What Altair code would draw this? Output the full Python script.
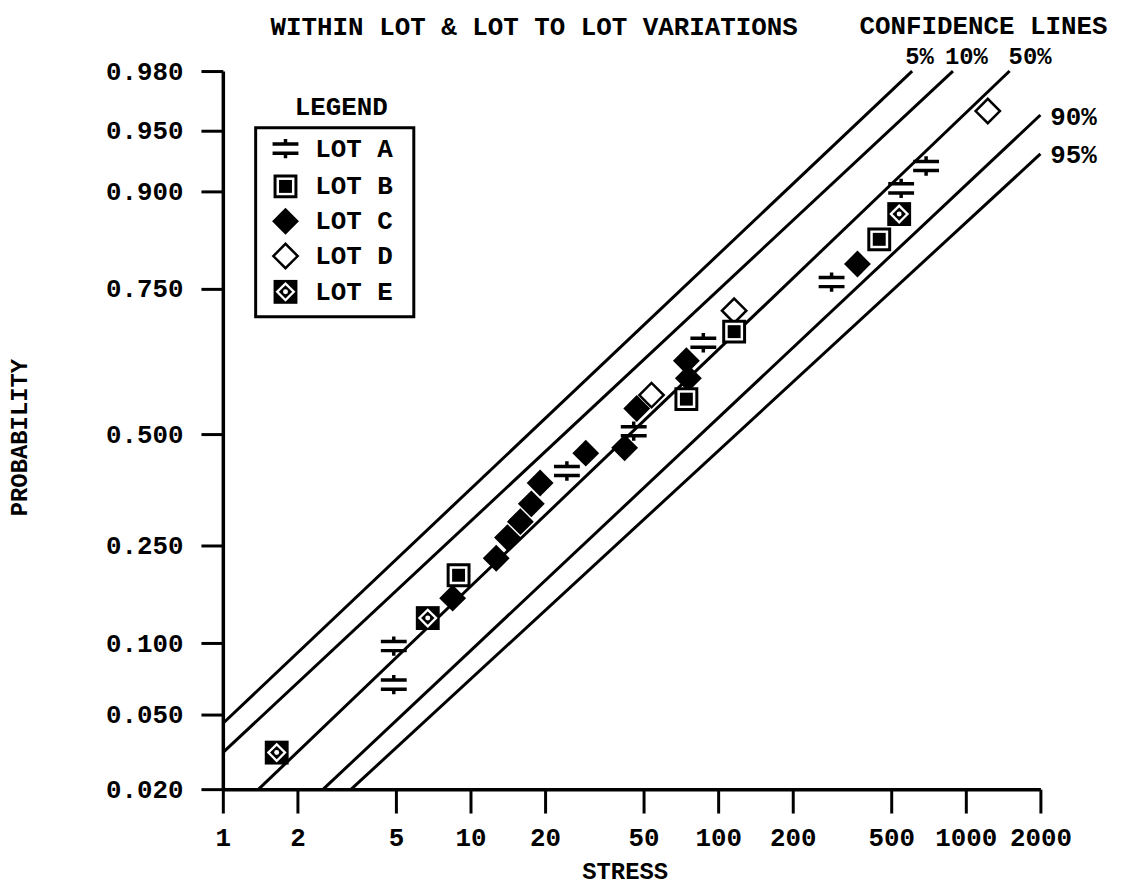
import altair as alt
import pandas as pd

# ---------------- data ----------------
prob_ticks = [0.02, 0.05, 0.10, 0.25, 0.50, 0.75, 0.90, 0.95, 0.98]
stress_ticks = [1, 2, 5, 10, 20, 50, 100, 200, 500, 1000, 2000]

lot_names = ["LOT A", "LOT B", "LOT C", "LOT D", "LOT E"]

lot_a_stress = [4.9, 4.9, 24.5, 45.6, 87.1, 287, 548, 691]
lot_a_prob = [0.098, 0.071, 0.417, 0.505, 0.657, 0.760, 0.9025, 0.921]

lot_b_stress = [8.95, 74.4, 116, 447]
lot_b_prob = [0.204, 0.560, 0.676, 0.826]

lot_c_stress = [8.47, 12.7, 14.1, 15.9, 17.6, 19.1, 29.2, 41.9, 46.9, 75.8, 74.4, 365]
lot_c_prob = [0.169, 0.230, 0.267, 0.303, 0.343, 0.390, 0.457, 0.469, 0.544, 0.596, 0.626, 0.788]

lot_d_stress = [53.8, 116, 1226]
lot_d_prob = [0.567, 0.712, 0.960]

lot_e_stress = [1.65, 6.72, 538]
lot_e_prob = [0.0347, 0.1385, 0.865]

conf_names = ["5%", "10%", "50%", "90%", "95%"]
conf_stress_lo = [1, 1, 1.395, 2.544, 3.30]
conf_prob_lo = [0.0464, 0.0347, 0.02, 0.02, 0.02]
conf_stress_hi = [607, 887, 1502, 2000, 2000]
conf_prob_hi = [0.98, 0.98, 0.98, 0.958, 0.931]

title_text = "WITHIN LOT & LOT TO LOT VARIATIONS"
conf_title = "CONFIDENCE LINES"
legend_title = "LEGEND"

# ---------------- tables ----------------
def lot_df(s, p):
    return pd.DataFrame({"stress": s, "prob": p})

df_a = lot_df(lot_a_stress, lot_a_prob)
df_b = lot_df(lot_b_stress, lot_b_prob)
df_c = lot_df(lot_c_stress, lot_c_prob)
df_d = lot_df(lot_d_stress, lot_d_prob)
df_e = lot_df(lot_e_stress, lot_e_prob)
df_conf = pd.DataFrame({
    "name": conf_names,
    "stress": conf_stress_lo, "prob": conf_prob_lo,
    "stress2": conf_stress_hi, "prob2": conf_prob_hi,
})

FONT = "Liberation Mono"
W, H = 822, 722
# pixel position of each probability tick inside the plot (piecewise scale)
y_range = [722, 647, 575.3, 476.7, 365, 218.7, 121, 60.3, 0]

X = alt.X(
    "stress:Q",
    scale=alt.Scale(type="log", domain=[1, 2000], nice=False),
    axis=alt.Axis(
        values=stress_ticks, format="d", title="STRESS", grid=False,
        tickSize=24, labelPadding=25, labelBaseline="middle",
        labelFlush=False, labelOverlap=False,
        titleX=404, titleY=83, titleBaseline="middle", titleAlign="center",
    ),
)
Y = alt.Y(
    "prob:Q",
    scale=alt.Scale(type="linear", domain=prob_ticks, range=y_range, zero=False, nice=False),
    axis=alt.Axis(
        values=prob_ticks, format=".3f", title="PROBABILITY", grid=False,
        tickSize=22, labelPadding=18, labelFlush=False, labelOverlap=False,
        titleX=-204, titleY=368, titleAngle=270,
        titleBaseline="middle", titleAlign="center",
    ),
)

lines = alt.Chart(df_conf).mark_rule(color="black", strokeWidth=3).encode(
    x=X, y=Y, x2="stress2:Q", y2="prob2:Q"
)

A_PATH = "M-1,-0.35L1,-0.35M-1,0.35L1,0.35M0,-0.75L0,-0.35M0,0.35L0,0.75"


def sym_a(df):
    return alt.Chart(df).mark_point(shape=A_PATH, filled=False, color="black",
                                    strokeWidth=3.5, size=676, opacity=1)


def sym_b(df):
    return [
        alt.Chart(df).mark_point(shape="square", filled=True, fill="white", stroke="black",
                                 strokeWidth=3, size=441, opacity=1),
        alt.Chart(df).mark_point(shape="square", filled=True, color="black",
                                 size=169, opacity=1),
    ]


def sym_c(df):
    return alt.Chart(df).mark_point(shape="diamond", filled=True, color="black",
                                    size=729, opacity=1)


def sym_d(df):
    return alt.Chart(df).mark_point(shape="diamond", filled=True, fill="white", stroke="black",
                                    strokeWidth=2.5, size=600, opacity=1)


def sym_e(df):
    return [
        alt.Chart(df).mark_point(shape="square", filled=True, color="black", size=576, opacity=1),
        alt.Chart(df).mark_point(shape="diamond", filled=True, color="white", size=400, opacity=1),
        alt.Chart(df).mark_point(shape="diamond", filled=True, color="black", size=180, opacity=1),
        alt.Chart(df).mark_point(shape="circle", filled=True, color="white", size=25, opacity=1),
    ]


enc = dict(x=X, y=Y)
point_layers = [sym_c(df_c).encode(**enc), sym_d(df_d).encode(**enc), sym_a(df_a).encode(**enc)]
point_layers += [c.encode(**enc) for c in sym_b(df_b)]
point_layers += [c.encode(**enc) for c in sym_e(df_e)]


# ---------------- annotations ----------------
def text_layer(txt, x, y, align="left", size=26):
    return alt.Chart(pd.DataFrame({"t": [txt]})).mark_text(
        font=FONT, fontWeight="bold", fontSize=size, align=align, baseline="middle",
        color="black",
    ).encode(text="t:N", x=alt.value(x), y=alt.value(y))


one = pd.DataFrame({"k": [0]})
annotations = [
    text_layer(title_text, 48, -44),
    text_layer(conf_title, 640, -45),
    text_layer(conf_names[0], 686, -14, size=24),
    text_layer(conf_names[1], 726, -14, size=24),
    text_layer(conf_names[2], 790, -14, size=24),
    text_layer(conf_names[3], 832, 46),
    text_layer(conf_names[4], 832, 84),
    text_layer(legend_title, 119, 36, align="center"),
]

legend_box = alt.Chart(one).mark_rect(fill="white", stroke="black", strokeWidth=3).encode(
    x=alt.value(33), x2=alt.value(192), y=alt.value(57), y2=alt.value(247)
)

row_y = [78, 116, 151, 186, 222]
sx = 63
leg_layers = [legend_box]
leg_layers.append(sym_a(one).encode(x=alt.value(sx), y=alt.value(row_y[0])))
leg_layers += [c.encode(x=alt.value(sx), y=alt.value(row_y[1])) for c in sym_b(one)]
leg_layers.append(sym_c(one).encode(x=alt.value(sx), y=alt.value(row_y[2])))
leg_layers.append(sym_d(one).encode(x=alt.value(sx), y=alt.value(row_y[3])))
leg_layers += [c.encode(x=alt.value(sx), y=alt.value(row_y[4])) for c in sym_e(one)]
for name, ry in zip(lot_names, row_y):
    leg_layers.append(text_layer(name, 93, ry))

chart = alt.layer(lines, *point_layers, *annotations, *leg_layers).properties(
    width=W, height=H,
    autosize=alt.AutoSizeParams(type="none"),
    padding={"left": 216, "top": 61, "right": 76, "bottom": 99},
    background="white",
).configure_view(stroke=None).configure_axis(
    domainColor="black", tickColor="black", labelColor="black", titleColor="black",
    labelFont=FONT, titleFont=FONT, labelFontSize=26, titleFontSize=24,
    labelFontWeight="bold", titleFontWeight="bold", domainWidth=3.5, tickWidth=3,
)

chart.save("out.html", embed_options={"renderer": "svg", "actions": False})
